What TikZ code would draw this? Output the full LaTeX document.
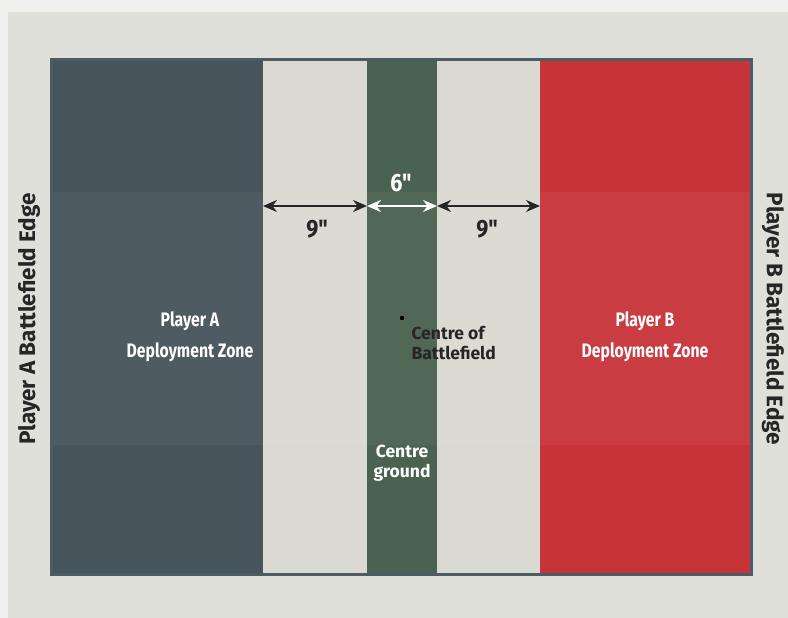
\documentclass[tikz,border=0pt]{standalone}
\usepackage{fontspec}
\setmainfont{Fira Sans}
\newfontfamily\condfont[FakeStretch=0.86]{Fira Sans}
\newfontfamily\zonefont[FakeStretch=0.81]{Fira Sans}
\usetikzlibrary{arrows.meta}
\definecolor{bg}{HTML}{E0E0DA}
\definecolor{bgtop}{HTML}{F0F0EE}
\definecolor{frame}{HTML}{4C5C64}
\definecolor{zoneA}{HTML}{47545B}
\definecolor{light}{HTML}{DADAD2}
\definecolor{cgreen}{HTML}{4A6250}
\definecolor{zoneB}{HTML}{C6343A}
\tikzset{
  zonelabel/.style={text=white, font=\zonefont\bfseries\fontsize{19.5}{31}\selectfont, align=center},
  edgelabel/.style={text=black!85, font=\bfseries\fontsize{22.5}{24}\selectfont},
  smalllabel/.style={font=\bfseries\fontsize{17.5}{19.5}\selectfont},
  dim/.style={line width=2pt, {Stealth[length=14pt,width=12pt]}-{Stealth[length=14pt,width=12pt]}},
  dimlabel/.style={font=\condfont\bfseries\fontsize{25}{27}\selectfont}
}
\begin{document}
\begin{tikzpicture}[x=1pt,y=-1pt]
\useasboundingbox (0,0) rectangle (788,618);
\fill[bgtop] (0,0) rectangle (788,618);
\fill[bg] (8,12) rectangle (788,618);
% stripes
\fill[zoneA] (51,60) rectangle (263,574);
\fill[light] (263,60) rectangle (367,574);
\fill[cgreen] (367,60) rectangle (437,574);
\fill[light] (437,60) rectangle (540,574);
\fill[zoneB] (540,60) rectangle (751,574);
% lighter middle band
\fill[white, opacity=0.045] (51,192) rectangle (751,445);
\draw[frame, line width=3pt] (51,60) rectangle (751,574);
% coordinates for dimension arrows
\coordinate (a1) at (263,206);
\coordinate (a2) at (367,206);
\coordinate (a3) at (437,206);
\coordinate (a4) at (540,206);
\draw[dim, black!85] (a1) -- (a2);
\draw[dim, white] (a2) -- (a3);
\draw[dim, black!85] (a3) -- (a4);
\node[dimlabel, text=white] (six) at (401,183) {6"};
\node[dimlabel, text=black!85] (nineL) at (317,229) {9"};
\node[dimlabel, text=black!85] (nineR) at (487,229) {9"};
% zone labels
\node[zonelabel] (pa) at (190,337) {Player A\\Deployment Zone};
\node[zonelabel] (pb) at (645,337) {Player B\\Deployment Zone};
% centre
\fill[black] (402,318) circle (2.2) coordinate (ctr);
\node[smalllabel, text=black!85, anchor=west, align=left] (cob) at (408,343) {Centre of\\Battlefield};
\node[smalllabel, text=white, align=center] (cg) at (402,463) {Centre\\ground};
% edge labels
\node[edgelabel, rotate=90] (ea) at (29,319) {Player A Battlefield Edge};
\node[edgelabel, rotate=-90] (eb) at (773,319) {Player B Battlefield Edge};
\end{tikzpicture}
\end{document}
